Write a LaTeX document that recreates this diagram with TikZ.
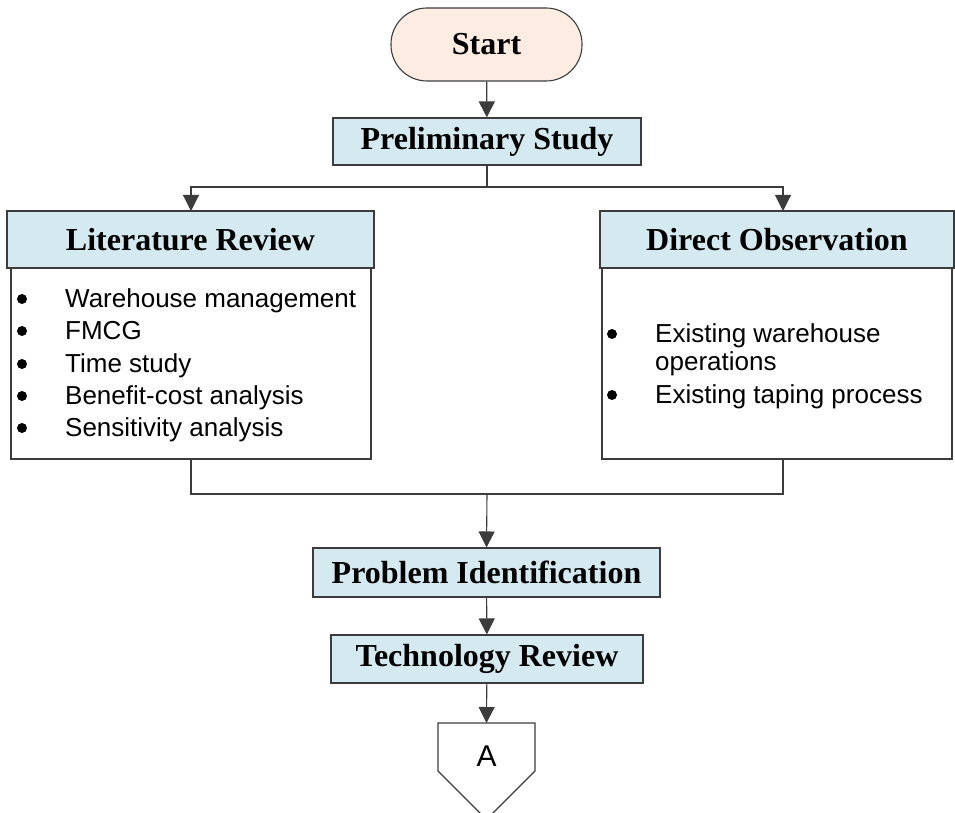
\documentclass[tikz,border=0pt]{standalone}
\usepackage{fontspec}
\setmainfont{Liberation Serif}
\newfontfamily\arialf{Liberation Sans}
\usetikzlibrary{arrows.meta,calc}
\definecolor{procblue}{RGB}{212,234,240}
\definecolor{termpeach}{RGB}{252,236,226}
\definecolor{edgegray}{RGB}{60,60,60}
\tikzset{
  conn/.style={draw=edgegray, line width=1.1pt},
  arr/.style={conn, -{Triangle[width=16pt,length=16pt]}},
  term/.style={draw=edgegray, line width=1.1pt, fill=termpeach, rounded corners=36pt,
    minimum width=191pt, minimum height=73pt, inner sep=0pt,
    font=\fontsize{32}{38}\selectfont\bfseries},
  procbox/.style={draw=edgegray, line width=1.1pt, fill=procblue, inner sep=0pt,
    font=\fontsize{32}{38}\selectfont\bfseries},
  bodybox/.style={draw=edgegray, line width=1.1pt, fill=white, inner sep=0pt},
  itemtxt/.style={anchor=base west, inner sep=0pt, font=\arialf\fontsize{26}{31}\selectfont},
  bulletdot/.style={circle, fill=black, inner sep=0pt, minimum size=10pt},
}
\begin{document}
\begin{tikzpicture}[x=1pt,y=-1pt]
\useasboundingbox (0,0) rectangle (955,813);
% main chain
\node[term] (start) at (486.5,44.5) {Start};
\node[procbox, minimum width=308pt, minimum height=47pt] (prelim) at (487,141.5) {Preliminary Study};
% left branch
\node[bodybox, minimum width=360pt, minimum height=191pt] (litb) at (191,363.5) {};
\node[procbox, minimum width=367pt, minimum height=57pt] (lith) at (190.5,239.5) {Literature Review};
% right branch
\node[bodybox, minimum width=350pt, minimum height=191pt] (dirb) at (777,363.5) {};
\node[procbox, minimum width=354pt, minimum height=57pt] (dirh) at (777,239.5) {Direct Observation};
% lower chain
\node[procbox, minimum width=347pt, minimum height=49pt] (prob) at (486.5,572.5) {Problem Identification};
\node[procbox, minimum width=312pt, minimum height=48pt] (tech) at (487,659) {Technology Review};
% off-page connector
\coordinate (ctop) at (486.5,723);
\draw[conn, fill=white] (438,723) -- (535,723) -- (535,771) -- (486.5,819.5) -- (438,771) -- cycle;
\node[inner sep=0pt, font=\arialf\fontsize{30}{36}\selectfont] (conA) at (486.5,756) {A};
% literature items
\node[bulletdot] (lbu1) at (22,299) {};
\node[itemtxt] (lit1) at (65,307) {Warehouse management};
\node[bulletdot] (lbu2) at (22,331) {};
\node[itemtxt] (lit2) at (65,339) {FMCG};
\node[bulletdot] (lbu3) at (22,364) {};
\node[itemtxt] (lit3) at (65,372) {Time study};
\node[bulletdot] (lbu4) at (22,396) {};
\node[itemtxt] (lit4) at (65,404) {Benefit-cost analysis};
\node[bulletdot] (lbu5) at (22,428) {};
\node[itemtxt] (lit5) at (65,436) {Sensitivity analysis};
% observation items
\node[bulletdot] (dbu1) at (612,334) {};
\node[itemtxt] (dir1) at (655,342) {Existing warehouse};
\node[itemtxt] (dir1b) at (655,370) {operations};
\node[bulletdot] (dbu2) at (612,395) {};
\node[itemtxt] (dir2) at (655,403) {Existing taping process};
% connectors
\coordinate (split) at (487,187);
\coordinate (litin) at (191,211);
\coordinate (dirin) at (783,211);
\draw[arr] (start) -- (prelim);
\draw[conn] (prelim.south) -- (split);
\draw[arr] (split) -| (litin);
\draw[arr] (split) -| (dirin);
\coordinate (litout) at (191,459);
\coordinate (dirout) at (783,459);
\coordinate (merge) at (487,494);
\draw[conn] (litout) |- (merge);
\draw[conn] (dirout) |- (merge);
\draw[arr] (merge) -- (prob.north);
\draw[arr] (prob) -- (tech);
\draw[arr] (tech) -- (ctop);
\end{tikzpicture}
\end{document}
